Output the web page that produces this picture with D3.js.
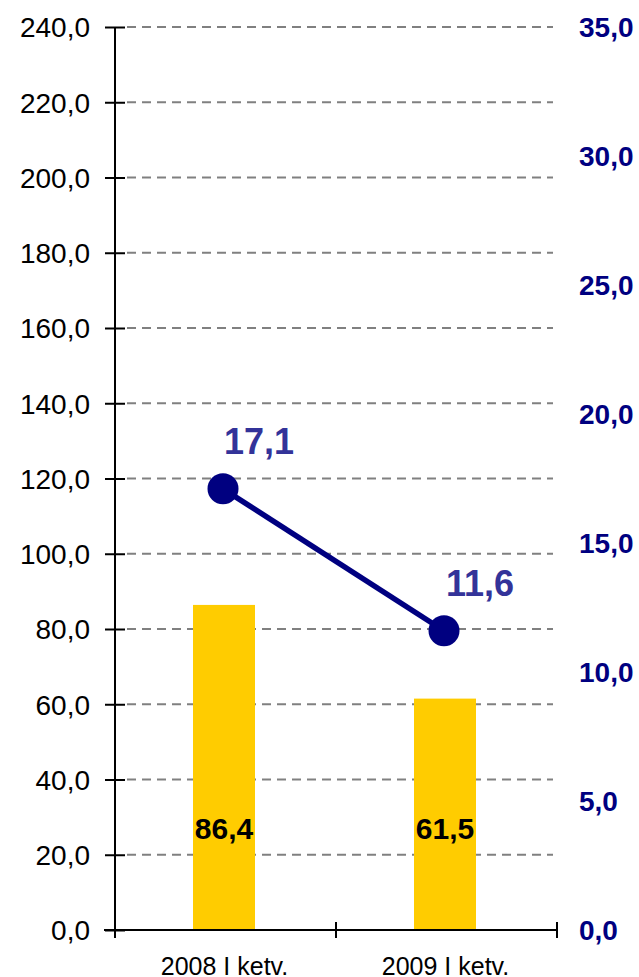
<!DOCTYPE html>
<html><head><meta charset="utf-8">
<script src="https://cdn.jsdelivr.net/npm/d3@7"></script>
<style>body{margin:0;background:#fff}svg{display:block}</style>
</head><body>
<script>
const categories = ["2008 I ketv.", "2009 I ketv."];
const barValues = [86.4, 61.5];
const lineValues = [17.1, 11.6];
const leftTicks = [0,20,40,60,80,100,120,140,160,180,200,220,240];
const rightTicks = [0,5,10,15,20,25,30,35];

const W = 639, H = 977;
const svg = d3.select("body").append("svg").attr("width", W).attr("height", H);
const fmt = v => d3.format(".1f")(v).replace(".", ",");
const font = "Liberation Sans, Arial, sans-serif";

const x = d3.scaleBand().domain(categories).range([115, 557]);
const yL = d3.scaleLinear().domain([0, 240]).range([930, 27]);
const yR = d3.scaleLinear().domain([0, 35]).range([930, 27]);

// gridlines
svg.append("g").selectAll("line").data(leftTicks.filter(d => d > 0)).join("line")
  .attr("x1", 127).attr("x2", 553)
  .attr("y1", d => yL(d)).attr("y2", d => yL(d))
  .attr("stroke", "#808080").attr("stroke-width", 1.8).attr("stroke-dasharray", "9,6");

// bars
const bw = 62;
svg.append("g").selectAll("rect").data(barValues).join("rect")
  .attr("x", (d, i) => x(categories[i]) + x.bandwidth() / 2 - 1.5 - bw / 2)
  .attr("width", bw)
  .attr("y", d => yL(d)).attr("height", d => yL(0) - yL(d))
  .attr("fill", "#FFCC00");

// left axis
const gL = svg.append("g").attr("transform", "translate(115,0)");
gL.call(d3.axisLeft(yL).tickValues(leftTicks).tickSize(10).tickFormat(fmt));
gL.select(".domain").remove();
gL.append("line").attr("x1", 0).attr("x2", 0).attr("y1", yL(240)).attr("y2", yL(0) + 8)
  .attr("stroke", "#000").attr("stroke-width", 2);
gL.selectAll(".tick line").attr("x1", -10).attr("x2", 10).attr("stroke", "#000").attr("stroke-width", 2);
gL.selectAll(".tick text").attr("x", -25).attr("dy", "0.35em")
  .style("font-family", font).style("font-size", "28px").attr("fill", "#000");

// x axis
const gX = svg.append("g").attr("transform", `translate(0,${yL(0)})`);
gX.append("line").attr("x1", 104).attr("x2", 557).attr("y1", 0).attr("y2", 0)
  .attr("stroke", "#000").attr("stroke-width", 2);
const xTicks = [x.range()[0], ...categories.map(c => x(c) + x.bandwidth())];
gX.selectAll(".xt").data(xTicks).join("line").attr("class", "xt")
  .attr("x1", d => d).attr("x2", d => d).attr("y1", -8).attr("y2", 8)
  .attr("stroke", "#000").attr("stroke-width", 2);
gX.selectAll(".xl").data(categories).join("text").attr("class", "xl")
  .attr("x", d => x(d) + x.bandwidth() / 2 - 1)
  .attr("y", 45).attr("text-anchor", "middle")
  .style("font-family", font).style("font-size", "25px").attr("fill", "#000")
  .text(d => d);

// right axis labels
svg.append("g").selectAll("text").data(rightTicks).join("text")
  .attr("x", 579).attr("y", d => yR(d)).attr("dy", "0.35em")
  .style("font-family", font).style("font-size", "28px").style("font-weight", "bold")
  .attr("fill", "#000080").text(fmt);

// bar labels
svg.append("g").selectAll("text").data(barValues).join("text")
  .attr("x", (d, i) => x(categories[i]) + x.bandwidth() / 2 - 1.5)
  .attr("y", yL(0) - 91).attr("text-anchor", "middle")
  .style("font-family", font).style("font-size", "30px").style("font-weight", "bold")
  .attr("fill", "#000").text(fmt);

// line
const px = i => x(categories[i]) + x.bandwidth() / 2 - 2.5;
const line = d3.line().x((d, i) => px(i)).y(d => yR(d));
svg.append("path").datum(lineValues).attr("d", line)
  .attr("fill", "none").attr("stroke", "#000080").attr("stroke-width", 5.5);
svg.append("g").selectAll("circle").data(lineValues).join("circle")
  .attr("cx", (d, i) => px(i)).attr("cy", d => yR(d)).attr("r", 15.5)
  .attr("fill", "#000080");
svg.append("g").selectAll("text").data(lineValues).join("text")
  .attr("x", (d, i) => px(i) + 36).attr("y", d => yR(d) - 35)
  .attr("text-anchor", "middle")
  .style("font-family", font).style("font-size", "36px").style("font-weight", "bold")
  .attr("fill", "#333399").text(fmt);
</script>
</body></html>
